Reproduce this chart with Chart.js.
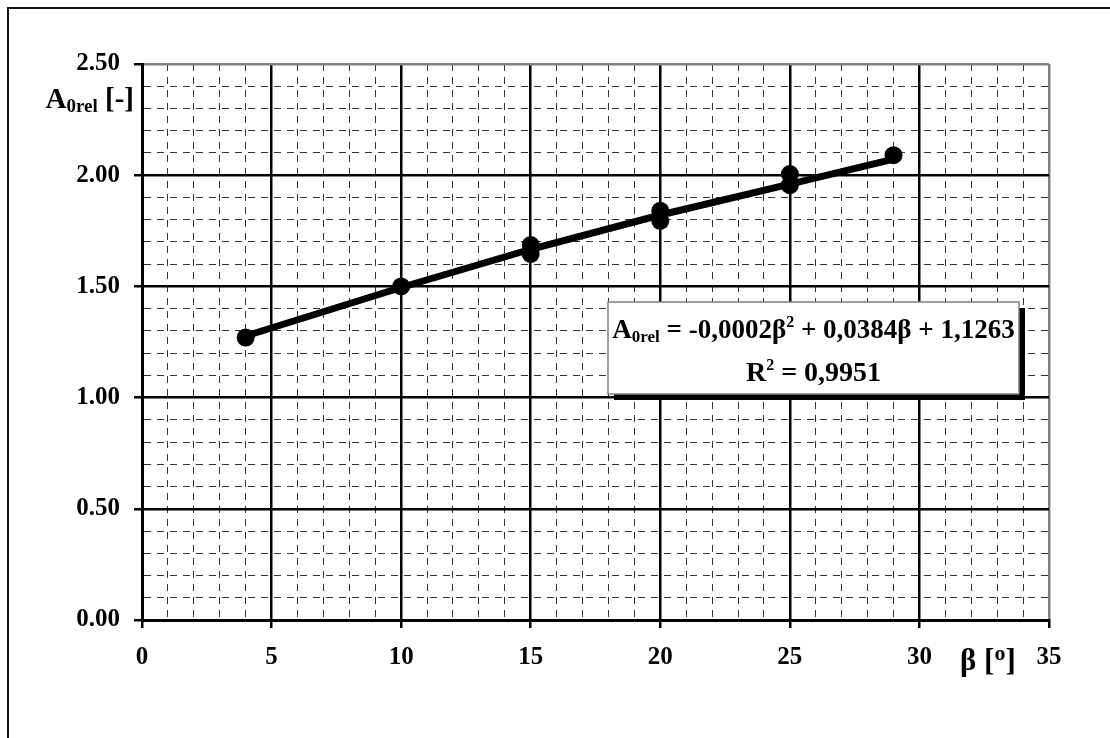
<!DOCTYPE html>
<html>
<head>
<meta charset="utf-8">
<script src="https://cdn.jsdelivr.net/npm/chart.js@4.4.1/dist/chart.umd.min.js"></script>
<style>
  html, body { margin: 0; padding: 0; background: #fff; overflow: hidden; }
  #frame { position: absolute; left: 7px; top: 7px; width: 1130px; height: 770px; border: 2px solid #111; }
  #chart { position: absolute; left: 0; top: 0; }
</style>
</head>
<body>
<div id="frame"></div>
<canvas id="chart" width="1110" height="738"></canvas>
<script>
// measured points (beta in degrees, relative A0)
const betaValues = [4, 10, 15, 15, 20, 20, 25, 25, 29];
const a0relValues = [1.27, 1.50, 1.686, 1.646, 1.84, 1.795, 2.005, 1.955, 2.09];
const trendBeta = [4, 10, 15, 20, 25, 29];
const trendA0rel = [1.277, 1.495, 1.667, 1.821, 1.960, 2.072];
// labelled ticks
const xTickLabels = ["0", "5", "10", "15", "20", "25", "30", "35"];
const yTickLabels = ["0.00", "0.50", "1.00", "1.50", "2.00", "2.50"];

const SERIF = "'Liberation Serif', 'Times New Roman', serif";

function xLabel(v) {
  const s = String(Math.round(v));
  return Math.abs(v - Math.round(v)) < 1e-9 && xTickLabels.includes(s) ? s : "";
}
function yLabel(v) {
  const s = v.toFixed(2);
  return Math.abs(v * 100 - Math.round(v * 100)) < 1e-6 && yTickLabels.includes(s) ? s : "";
}

function gridFor(labelFn, lastValue) {
  const major = (c) => c.tick && labelFn(c.tick.value) !== "";
  return {
    grid: {
      color: (c) => (major(c) ? (Math.abs(c.tick.value - lastValue) < 1e-9 ? "#808080" : "#000") : "#333"),
      lineWidth: (c) => (major(c) ? 2.5 : 1),
      tickLength: 8,
      tickWidth: 2.5,
      tickColor: (c) => (major(c) ? "#000" : "rgba(0,0,0,0)"),
    },
    border: {
      display: true,
      color: "#000",
      width: 3,
      dash: (c) => (c.tick && !major(c) ? [7, 6] : []),
    },
  };
}

// draws a run of text pieces (sub/superscripts) starting at x
function drawRich(ctx, parts, x, y, align) {
  let total = 0;
  parts.forEach((p) => {
    ctx.font = "bold " + p.size + "px " + SERIF;
    p.w = ctx.measureText(p.t).width;
    total += p.w;
  });
  let cx = align === "right" ? x - total : align === "center" ? x - total / 2 : x;
  ctx.textAlign = "left";
  ctx.textBaseline = "alphabetic";
  parts.forEach((p) => {
    ctx.font = "bold " + p.size + "px " + SERIF;
    ctx.fillText(p.t, cx, y + (p.dy || 0));
    cx += p.w;
  });
}

const annotations = {
  id: "annotations",
  afterDraw(chart) {
    const ctx = chart.ctx;
    const a = chart.chartArea;
    ctx.save();
    ctx.fillStyle = "#000";

    // axis titles
    drawRich(ctx, [
      { t: "A", size: 29 },
      { t: "0rel", size: 19, dy: 4 },
      { t: " [-]", size: 29 },
    ], a.left - 8, 108, "right");
    drawRich(ctx, [
      { t: "β [", size: 31 },
      { t: "o", size: 22, dy: -10 },
      { t: "]", size: 31 },
    ], a.left + 818, 670, "left");

    // regression box with shadow
    const bx = a.left + 466, by = 302, bw = 411, bh = 92;
    ctx.fillStyle = "#000";
    ctx.fillRect(bx + 6, by + 6, bw, bh);
    ctx.fillStyle = "#fff";
    ctx.fillRect(bx, by, bw, bh);
    ctx.strokeStyle = "#808080";
    ctx.lineWidth = 1.5;
    ctx.strokeRect(bx, by, bw, bh);

    ctx.fillStyle = "#000";
    const cx = bx + bw / 2;
    drawRich(ctx, [
      { t: "A", size: 27 },
      { t: "0rel", size: 17, dy: 4 },
      { t: " = -0,0002β", size: 27 },
      { t: "2", size: 16, dy: -11 },
      { t: " + 0,0384β + 1,1263", size: 27 },
    ], cx, 338, "center");
    drawRich(ctx, [
      { t: "R", size: 28 },
      { t: "2", size: 16, dy: -11 },
      { t: " = 0,9951", size: 28 },
    ], cx, 381, "center");
    ctx.restore();
  },
};

const xOpts = gridFor(xLabel, 35);
const yOpts = gridFor(yLabel, 2.5);

new Chart(document.getElementById("chart"), {
  data: {
    datasets: [
      {
        type: "scatter",
        data: betaValues.map((b, i) => ({ x: b, y: a0relValues[i] })),
        backgroundColor: "#000",
        borderColor: "#000",
        borderWidth: 0,
        pointRadius: 9,
        order: 1,
      },
      {
        type: "line",
        data: trendBeta.map((b, i) => ({ x: b, y: trendA0rel[i] })),
        borderColor: "#000",
        borderWidth: 7,
        pointRadius: 0,
        tension: 0,
        fill: false,
        order: 2,
      },
    ],
  },
  options: {
    responsive: false,
    animation: false,
    layout: { padding: { left: 0, top: 64, right: 61, bottom: 0 } },
    plugins: { legend: { display: false }, tooltip: { enabled: false } },
    scales: {
      x: {
        type: "linear",
        min: 0,
        max: 35,
        afterFit: (s) => { s.height = 118; },
        ticks: {
          stepSize: 1,
          autoSkip: false,
          maxRotation: 0,
          padding: 15,
          color: "#000",
          font: { family: SERIF, size: 25, weight: "bold" },
          callback: (v) => xLabel(v),
        },
        grid: xOpts.grid,
        border: xOpts.border,
      },
      y: {
        type: "linear",
        min: 0,
        max: 2.5,
        afterFit: (s) => { s.width = 142; },
        ticks: {
          stepSize: 0.1,
          autoSkip: false,
          padding: 14,
          color: "#000",
          font: { family: SERIF, size: 25, weight: "bold" },
          callback: (v) => yLabel(v),
        },
        grid: yOpts.grid,
        border: yOpts.border,
      },
    },
  },
  plugins: [annotations],
});
</script>
</body>
</html>
